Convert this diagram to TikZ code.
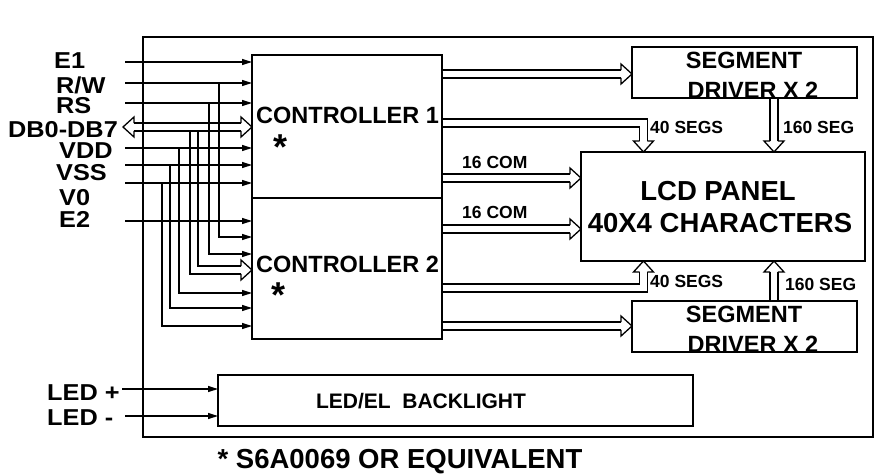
\documentclass[tikz,border=0pt]{standalone}
\usepackage{fontspec}
\setmainfont{Liberation Sans}
\newfontfamily\pinfont{Liberation Sans}[FakeStretch=1.1]
\usetikzlibrary{arrows.meta}
\usetikzlibrary{calc}

\tikzset{
  blk/.style={draw, line width=1.4pt, anchor=north west, inner sep=0, outer sep=0},
  sig/.style={line width=1.3pt, -{Triangle[length=10pt,width=6pt]}},
  bus/.style={double, double distance=6.5pt, line width=1.3pt, shorten <=0.7pt, shorten >=11pt},
  bushead/.pic={\draw[line width=1.3pt, miter limit=10] (-11,-3.9) -- (-11,-10) -- (0,0) -- (-11,10) -- (-11,3.9);},
  pinlbl/.style={font=\pinfont\bfseries\fontsize{23}{23}\selectfont, anchor=base west, inner sep=0},
  midlbl/.style={font=\bfseries\fontsize{23.5}{24}\selectfont, anchor=base, inner sep=0},
  biglbl/.style={font=\bfseries\fontsize{27.5}{28}\selectfont, anchor=base, inner sep=0},
  smalllbl/.style={font=\bfseries\fontsize{17.5}{18}\selectfont, anchor=base west, inner sep=0},
  starlbl/.style={font=\bfseries\fontsize{36}{36}\selectfont, anchor=base, inner sep=0}
}

\begin{document}
\begin{tikzpicture}[x=1pt, y=-1pt]
\useasboundingbox (0,0) rectangle (881,474);

\node[blk, minimum width=190pt, minimum height=143pt] (ctrlA) at (252,55) {};
\node[blk, minimum width=190pt, minimum height=141pt] (ctrlB) at (252,198) {};
\node[blk, minimum width=225pt, minimum height=51pt] (segA) at (632,47) {};
\node[blk, minimum width=284pt, minimum height=109pt] (lcd) at (581,152) {};
\node[blk, minimum width=225pt, minimum height=51pt] (segB) at (632,301) {};
\node[blk, minimum width=475pt, minimum height=51pt] (backlight) at (218,375) {};

\coordinate (dbL) at (123,127);
\draw[bus] (194,131.5) |- (ctrlB.west |- 0,270);
\pic at (ctrlB.west |- 0,270) {bushead};
\draw[bus, shorten <=11pt] (dbL) -- (dbL -| ctrlA.west);
\pic[rotate=180] at (dbL) {bushead};
\pic at (dbL -| ctrlA.west) {bushead};

\draw[bus] (ctrlA.east |- 0,74) -- (segA.west |- 0,74);
\pic at (segA.west |- 0,74) {bushead};
\draw[bus] (ctrlA.east |- 0,123) -| (lcd.north -| 643.5,0);
\pic[rotate=-90] at (lcd.north -| 643.5,0) {bushead};
\draw[bus] (segA.south -| 774,0) -- (lcd.north -| 774,0);
\pic[rotate=-90] at (lcd.north -| 774,0) {bushead};
\draw[bus] (ctrlA.east |- 0,178) -- (lcd.west |- 0,178);
\pic at (lcd.west |- 0,178) {bushead};
\draw[bus] (ctrlB.east |- 0,229) -- (lcd.west |- 0,229);
\pic at (lcd.west |- 0,229) {bushead};
\draw[bus] (ctrlB.east |- 0,288) -| (lcd.south -| 643.5,0);
\pic[rotate=90] at (lcd.south -| 643.5,0) {bushead};
\draw[bus] (segB.north -| 774,0) -- (lcd.south -| 774,0);
\pic[rotate=90] at (lcd.south -| 774,0) {bushead};
\draw[bus] (ctrlB.east |- 0,326) -- (segB.west |- 0,326);
\pic at (segB.west |- 0,326) {bushead};

\draw[line width=1.6pt] (143,37) rectangle (873,437);

\coordinate (e1S) at (125,62);
\coordinate (rwS) at (125,83);
\coordinate (rsS) at (125,103);
\coordinate (vddS) at (125,148);
\coordinate (vssS) at (125,165);
\coordinate (v0S) at (125,183);
\coordinate (e2S) at (125,221);
\coordinate (ledpS) at (122,389);
\coordinate (ledmS) at (125,416);
\draw[sig] (e1S) -- (e1S -| ctrlA.west);
\draw[sig] (rwS) -- (rwS -| ctrlA.west);
\draw[sig] (rsS) -- (rsS -| ctrlA.west);
\draw[sig] (vddS) -- (vddS -| ctrlA.west);
\draw[sig] (vssS) -- (vssS -| ctrlA.west);
\draw[sig] (v0S) -- (v0S -| ctrlA.west);
\draw[sig] (e2S) -- (e2S -| ctrlB.west);
\draw[sig] (219,83) |- (ctrlB.west |- 0,237);
\draw[sig] (209,103) |- (ctrlB.west |- 0,254);
\draw[sig] (179,148) |- (ctrlB.west |- 0,293);
\draw[sig] (170,165) |- (ctrlB.west |- 0,308);
\draw[sig] (162,183) |- (ctrlB.west |- 0,326);
\draw[sig] (ledpS) -- (ledpS -| backlight.west);
\draw[sig] (ledmS) -- (ledmS -| backlight.west);

\node[pinlbl] (e1) at (54,68) {E1};
\node[pinlbl] (rw) at (56,93) {R/W};
\node[pinlbl] (rs) at (56,113) {RS};
\node[pinlbl] (db) at (8,137) {DB0-DB7};
\node[pinlbl] (vdd) at (59,158) {VDD};
\node[pinlbl] (vss) at (56,180) {VSS};
\node[pinlbl] (vzero) at (59,205) {V0};
\node[pinlbl] (etwo) at (59,227) {E2};
\node[pinlbl] (ledp) at (47,400) {LED +};
\node[pinlbl] (ledm) at (47,425) {LED -};

\node[midlbl, anchor=base west] (ctrlAtxt) at (256,123) {CONTROLLER 1};
\node[starlbl] (ctrlAstar) at (281,159) {*};
\node[midlbl, anchor=base west] (ctrlBtxt) at (256,272) {CONTROLLER 2};
\node[starlbl] (ctrlBstar) at (279,307) {*};
\node[midlbl] (segAtop) at (744,68) {SEGMENT};
\node[midlbl] (segAbot) at (753,98) {DRIVER X 2};
\node[biglbl] (lcdtop) at (718,200) {LCD PANEL};
\node[biglbl] (lcdbot) at (720,232) {40X4 CHARACTERS};
\node[midlbl] (segBtop) at (744,322) {SEGMENT};
\node[midlbl] (segBbot) at (753,352) {DRIVER X 2};
\node[smalllbl] (segsA) at (650,133) {40 SEGS};
\node[smalllbl] (segA160) at (783,133) {160 SEG};
\node[smalllbl] (comA) at (462,168) {16 COM};
\node[smalllbl] (comB) at (462,218) {16 COM};
\node[smalllbl] (segsB) at (650,287) {40 SEGS};
\node[smalllbl] (segB160) at (785,290) {160 SEG};
\node[font=\bfseries\fontsize{21}{21}\selectfont, anchor=base, inner sep=0] (backtxt) at (421,408) {LED/EL\ \ BACKLIGHT};
\node[biglbl] (note) at (400,468) {* S6A0069 OR EQUIVALENT};
\end{tikzpicture}
\end{document}
